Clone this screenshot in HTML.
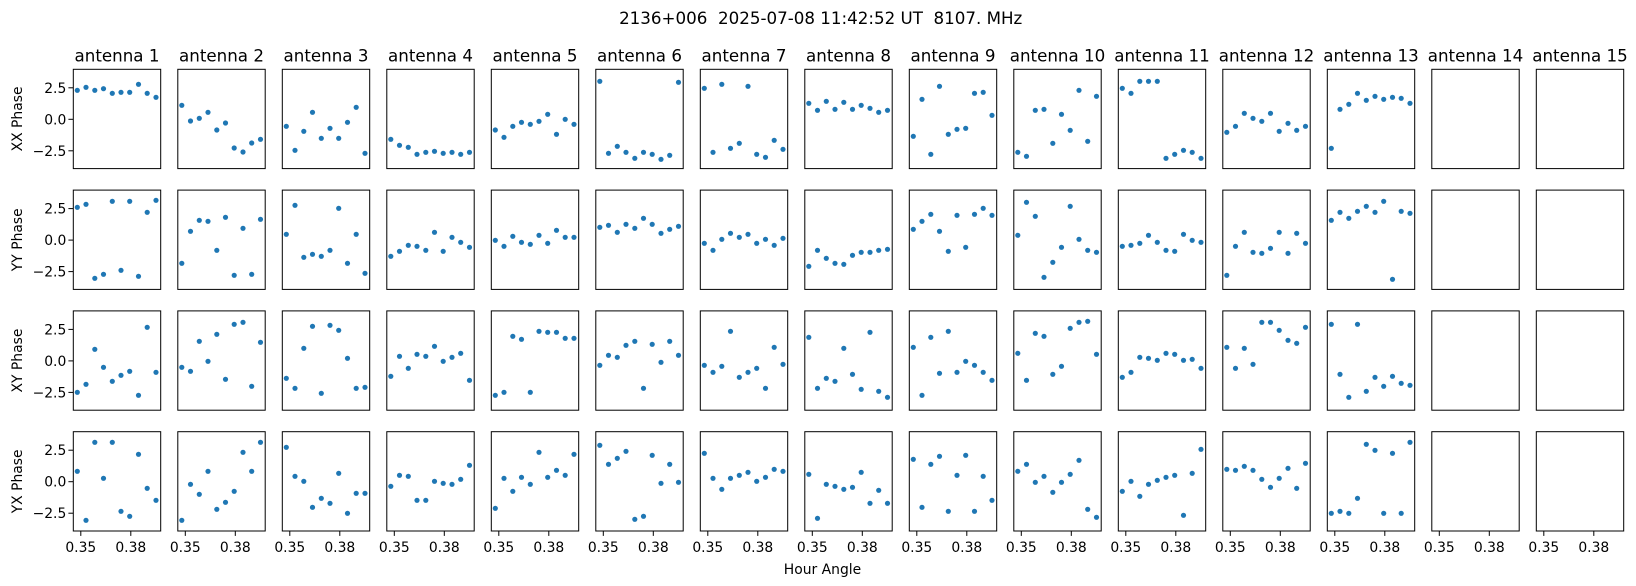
<!DOCTYPE html>
<html><head><meta charset="utf-8"><style>
html,body{margin:0;padding:0;background:#fff;}
svg{display:block;font-family:"DejaVu Sans","Liberation Sans",sans-serif;}
</style></head><body>
<svg id="s" width="1636" height="586" viewBox="0 0 1636 586" xmlns="http://www.w3.org/2000/svg">
<rect width="1636" height="586" fill="#fff"/>
<text x="820.7" y="24" font-size="16.7" text-anchor="middle" xml:space="preserve">2136+006  2025-07-08 11:42:52 UT  8107. MHz</text>
<text x="822.5" y="574" font-size="13.9" text-anchor="middle">Hour Angle</text>
</svg>
<script>
var S=document.getElementById('s'),NS='http://www.w3.org/2000/svg';
function el(t,a,txt){var e=document.createElementNS(NS,t);for(var k in a)e.setAttribute(k,a[k]);if(txt!==undefined)e.textContent=txt;S.appendChild(e);return e;}
var L0=73.3,P=104.5,W=87.4,T=[69.3,190.1,310.9,431.7],H=99.3;
var lab=['XX Phase','YY Phase','XY Phase','YX Phase'];
var D={
1:[[40,[151,142,151,146,160,157,157,133,160,172]],[40,[502,493,715,703,484,691,484,709,517,481]],[280,[337,313,208,262,304,286,274,346,142,277]],[280,[574,721,487,595,487,694,709,523,625,661]]],
2:[[40,[196,243,235,217,270,249,324,336,309,298]],[40,[670,574,541,544,631,532,706,565,703,538]],[280,[262,274,184,244,163,298,133,127,319,187]],[280,[721,613,643,574,688,667,634,517,574,487]]],
3:[[40,[259,331,274,217,295,265,295,247,202,340]],[40,[583,496,652,643,649,631,505,670,583,700]],[280,[295,325,205,139,340,136,151,235,325,322]],[280,[502,589,604,682,655,670,580,700,640,640]]],
4:[[40,[298,316,322,343,337,334,340,337,343,337]],[40,[649,634,616,619,631,577,634,592,607,622]],[280,[289,229,265,223,229,199,244,232,220,301]],[280,[619,586,589,661,661,604,610,613,598,556]]],
5:[[60,[210,232,199,187,193,184,163,223,178,193]],[60,[541,559,529,547,553,526,550,511,532,532]],[60,[1006,997,829,838,997,814,817,817,835,835]],[60,[1345,1255,1294,1252,1273,1177,1252,1231,1246,1183]]],
6:[[60,[64,280,259,277,295,277,283,298,286,67]],[60,[502,496,517,493,505,475,493,520,508,499]],[60,[916,886,892,856,844,985,853,907,844,886]],[60,[1156,1213,1195,1174,1378,1369,1186,1270,1213,1267]]],
7:[[60,[85,277,73,265,250,79,283,292,241,268]],[60,[550,571,538,520,532,523,550,538,556,535]],[60,[916,937,919,814,952,937,925,985,862,913]],[60,[1180,1255,1288,1255,1246,1237,1264,1252,1228,1234]]],
8:[[60,[130,151,124,148,127,148,136,145,157,151]],[60,[619,571,595,610,613,586,577,577,571,568]],[60,[832,985,955,964,865,943,988,817,994,1012]],[60,[1243,1375,1273,1279,1288,1282,1237,1330,1291,1330]]],
9:[[60,[229,118,283,79,223,208,205,100,97,166]],[60,[508,484,463,514,574,466,562,463,445,466]],[60,[862,1006,832,940,814,937,904,916,937,961]],[60,[1198,1342,1213,1189,1354,1246,1186,1354,1249,1321]]],
10:[[60,[277,289,151,148,250,163,211,91,244,109]],[60,[526,427,469,652,607,562,439,538,571,577]],[60,[880,961,820,829,943,919,805,787,784,883]],[60,[1234,1213,1267,1249,1297,1267,1243,1201,1348,1372]]],
11:[[60,[85,100,64,64,64,295,283,271,277,295]],[60,[559,556,550,526,547,571,574,523,541,547]],[60,[952,937,892,895,901,880,883,901,898,925]],[60,[1294,1264,1309,1273,1261,1252,1246,1366,1240,1168]]],
12:[[60,[217,199,160,175,184,160,214,190,211,199]],[60,[646,559,517,577,580,565,517,580,520,550]],[60,[862,925,865,913,787,787,811,841,850,802]],[60,[1228,1231,1219,1231,1258,1282,1255,1225,1285,1210]]],
13:[[60,[265,148,133,100,121,109,118,112,115,130]],[60,[481,457,475,454,439,457,424,658,454,460]],[60,[793,943,1012,793,994,952,979,949,970,976]],[60,[1360,1354,1360,1315,1153,1171,1360,1180,1360,1147]]]
};
for(var c=0;c<15;c++){
  var x0=L0+c*P;
  el('text',{x:x0+W/2,y:61.5,'font-size':16.7,'text-anchor':'middle'},'antenna '+(c+1));
  for(var r=0;r<4;r++){
    var y0=T[r];
    var d=D[c+1];
    if(d){var off=d[r][0],ys=d[r][1];
      for(var k=0;k<ys.length;k++){el('circle',{cx:(x0+4+8.74*k).toFixed(1),cy:(off+ys[k]/3).toFixed(1),r:2.6,fill:'#1f77b4'});}}
    el('rect',{x:x0,y:y0,width:W,height:H,fill:'none',stroke:'#000','stroke-width':1});
    if(c==0){
      var zs=[[2.5,'2.5'],[0,'0.0'],[-2.5,'\u22122.5']];
      for(var i=0;i<3;i++){var yy=y0+50-zs[i][0]*12.6;
        el('line',{x1:x0-4.9,x2:x0,y1:yy,y2:yy,stroke:'#000','stroke-width':1});
        el('text',{x:x0-7,y:yy+5,'font-size':13.9,'text-anchor':'end'},zs[i][1]);}
      var cy=y0+H/2;
      el('text',{x:22,y:cy,'font-size':13.9,'text-anchor':'middle',transform:'rotate(-90 22 '+cy+')'},lab[r]);
    }
    if(r==3){
      var tx=[[7.5,'0.35'],[57.5,'0.38']];
      for(var i=0;i<2;i++){var xx=x0+tx[i][0];
        el('line',{x1:xx,x2:xx,y1:y0+H,y2:y0+H+4.9,stroke:'#000','stroke-width':1});
        el('text',{x:xx,y:552,'font-size':13.9,'text-anchor':'middle'},tx[i][1]);}
    }
  }
}
</script>
</body></html>
